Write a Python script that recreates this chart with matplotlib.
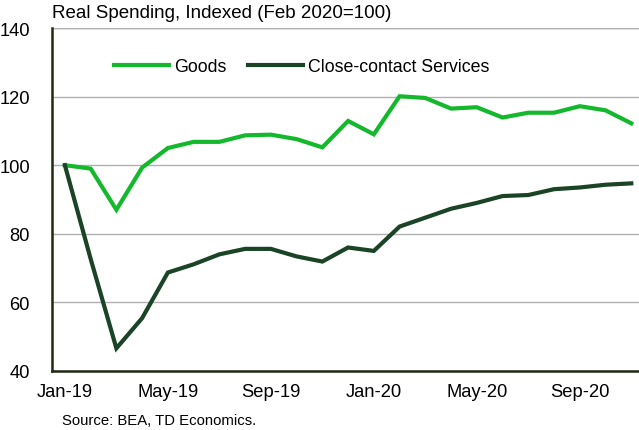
import matplotlib
matplotlib.use("Agg")
import matplotlib.pyplot as plt
import numpy as np

plt.rcParams["font.family"] = ["Liberation Sans", "DejaVu Sans"]

tick_labels = ["Jan-19", "May-19", "Sep-19", "Jan-20", "May-20", "Sep-20"]
goods = [100.0, 99.0, 87.0, 99.3, 105.0, 106.8, 106.8, 108.7, 108.9, 107.6, 105.2,
         112.9, 109.0, 120.1, 119.6, 116.5, 116.9, 113.9, 115.3, 115.3, 117.2, 116.0, 112.2]
services = [100.0, 72.7, 46.6, 55.4, 68.7, 71.1, 74.0, 75.6, 75.6, 73.4, 71.9,
            76.0, 75.0, 82.1, 84.7, 87.3, 89.0, 91.0, 91.3, 93.0, 93.5, 94.3, 94.7]

GOODS_COLOR = "#14b82c"
SERV_COLOR = "#1b4326"

fig = plt.figure(figsize=(6.39, 4.31), dpi=100)
ax = fig.add_axes([0.0814, 0.137, 0.9186, 0.7957])

x = np.arange(len(goods))
ax.plot(x, goods, color=GOODS_COLOR, lw=3.0, label="Goods", solid_joinstyle="miter")
ax.plot(x, services, color=SERV_COLOR, lw=3.0, label="Close-contact Services", solid_joinstyle="miter")

ax.set_xlim(-0.5, 22.3)
ax.set_ylim(40, 140)
ax.set_yticks([40, 60, 80, 100, 120, 140])
ax.set_xticks(x[::4])
ax.set_xticklabels(tick_labels)
ax.tick_params(axis="both", length=0, labelsize=13.2, colors="black")
ax.tick_params(axis="y", pad=16)
ax.tick_params(axis="x", pad=9)

ax.grid(axis="y", color="#b0b0b0", lw=1.0)
ax.set_axisbelow(True)
for side in ("top", "right"):
    ax.spines[side].set_visible(False)
ax.spines["left"].set_color("#1f2a14")
ax.spines["bottom"].set_color("#1f2a14")
ax.spines["left"].set_linewidth(1.8)
ax.spines["bottom"].set_linewidth(1.8)
ax.axhline(140, color="#b0b0b0", lw=1.0, zorder=0)

ax.legend(loc="upper left", bbox_to_anchor=(0.078, 0.96), ncol=2, frameon=False,
          fontsize=12.8, handlelength=3.1, handletextpad=0.28, columnspacing=1.2)

fig.text(0.0814, 0.95, "Real Spending, Indexed (Feb 2020=100)", fontsize=13.5, ha="left", va="bottom")
fig.text(0.097, 0.008, "Source: BEA, TD Economics.", fontsize=10.7, ha="left", va="bottom")

fig.savefig("out.png", dpi=100)
